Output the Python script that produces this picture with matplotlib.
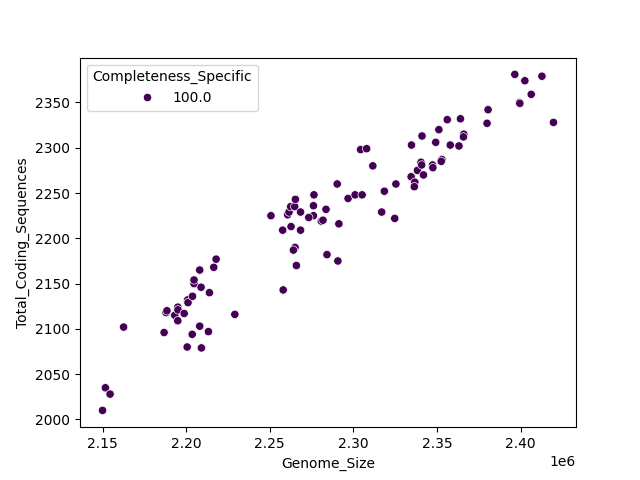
import matplotlib
matplotlib.use("Agg")
import matplotlib.pyplot as plt
import seaborn as sns
import pandas as pd

genome_size = [
    2.1500, 2.1517, 2.1545, 2.1626, 2.1868, 2.1880, 2.1885, 2.1932, 2.1950, 2.1950,
    2.1951, 2.1988, 2.2006, 2.2036, 2.2009, 2.2011, 2.2038, 2.2047, 2.2047, 2.2089,
    2.2081, 2.2091, 2.2133, 2.2139, 2.2291, 2.2081, 2.2165, 2.2179,
    2.2580, 2.2507, 2.2577, 2.2627, 2.2607, 2.2615, 2.2625, 2.2649, 2.2653, 2.2684,
    2.2684, 2.2651, 2.2641, 2.2659, 2.2761, 2.2764, 2.2761, 2.2733, 2.2808, 2.2818,
    2.2836, 2.2842, 2.2903, 2.2907, 2.2913, 2.2968, 2.3010, 2.3052, 2.3043, 2.3079,
    2.3116, 2.3169, 2.3185, 2.3247, 2.3254,
    2.3345, 2.3367, 2.3364, 2.3347, 2.3383, 2.3404, 2.3408, 2.3410, 2.3419, 2.3473,
    2.3475, 2.3492, 2.3511, 2.3529, 2.3525, 2.3561, 2.3579, 2.3631, 2.3640, 2.3660,
    2.3658, 2.3799, 2.3805, 2.3965, 2.3993, 2.3995, 2.4025, 2.4063, 2.4127, 2.4196,
]
total_coding_sequences = [
    2010, 2035, 2028, 2102, 2096, 2118, 2120, 2115, 2109, 2124,
    2121, 2117, 2080, 2094, 2132, 2129, 2136, 2150, 2154, 2146,
    2103, 2079, 2097, 2140, 2116, 2165, 2168, 2177,
    2143, 2225, 2209, 2213, 2226, 2229, 2235, 2235, 2243, 2229,
    2209, 2190, 2187, 2170, 2236, 2248, 2225, 2223, 2219, 2220,
    2232, 2182, 2260, 2175, 2216, 2244, 2248, 2248, 2298, 2299,
    2280, 2229, 2252, 2222, 2260,
    2268, 2262, 2257, 2303, 2275, 2284, 2281, 2313, 2270, 2281,
    2278, 2306, 2320, 2287, 2285, 2331, 2303, 2302, 2332, 2315,
    2312, 2327, 2342, 2381, 2350, 2349, 2374, 2359, 2379, 2328,
]
completeness = [100.0] * len(genome_size)

df = pd.DataFrame({
    "Genome_Size": [g * 1e6 for g in genome_size],
    "Total_Coding_Sequences": total_coding_sequences,
    "Completeness_Specific": completeness,
})

fig, ax = plt.subplots(figsize=(6.4, 4.8), dpi=100)
sns.scatterplot(data=df, x="Genome_Size", y="Total_Coding_Sequences",
                hue="Completeness_Specific", palette="viridis", ax=ax)
ax.legend(title="Completeness_Specific", loc="upper left")
fig.savefig("out.png", dpi=100)
